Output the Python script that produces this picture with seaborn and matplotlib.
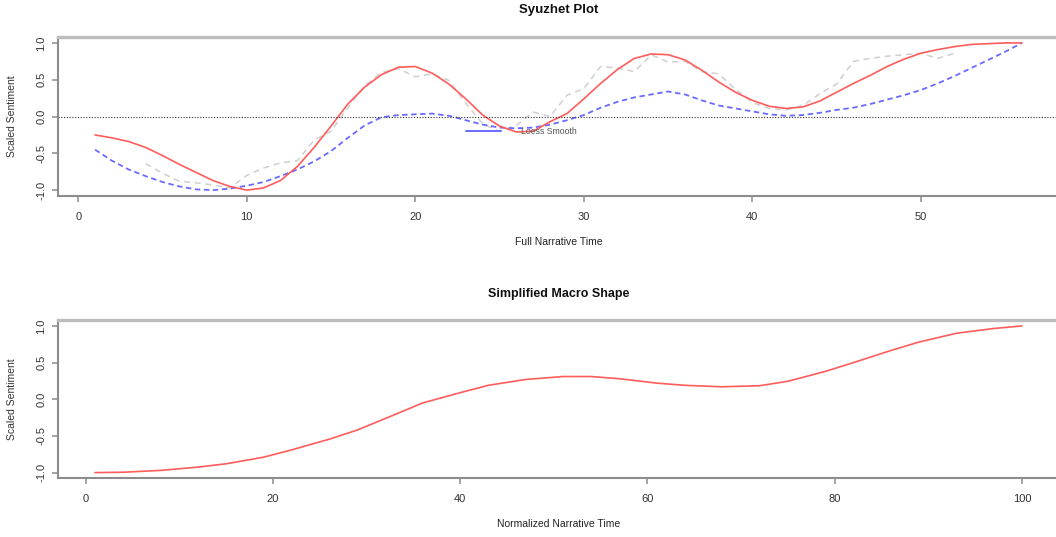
import numpy as np
import pandas as pd
import matplotlib
matplotlib.use("Agg")
import matplotlib.pyplot as plt
import seaborn as sns

# Data
narrative_time = list(range(1, 57))
dct_values = [-0.25, -0.29, -0.34, -0.42, -0.53, -0.65, -0.76, -0.87, -0.95, -1.0,
              -0.97, -0.87, -0.68, -0.42, -0.13, 0.17, 0.40, 0.57, 0.67, 0.68,
              0.59, 0.44, 0.24, 0.02, -0.13, -0.21, -0.20, -0.07, 0.04, 0.24,
              0.45, 0.64, 0.79, 0.85, 0.84, 0.77, 0.63, 0.47, 0.33, 0.22,
              0.14, 0.11, 0.13, 0.21, 0.33, 0.45, 0.56, 0.68, 0.78, 0.86,
              0.91, 0.95, 0.98, 0.99, 1.0, 1.0]
loess_values = [-0.45, -0.60, -0.72, -0.81, -0.89, -0.95, -0.99, -1.0, -0.98, -0.94,
                -0.89, -0.81, -0.72, -0.61, -0.47, -0.29, -0.12, -0.01, 0.02, 0.03,
                0.04, 0.01, -0.05, -0.11, -0.15, -0.16, -0.15, -0.11, -0.05, 0.02,
                0.12, 0.20, 0.26, 0.30, 0.34, 0.30, 0.22, 0.15, 0.11, 0.07,
                0.03, 0.01, 0.02, 0.05, 0.09, 0.12, 0.17, 0.23, 0.29, 0.36,
                0.45, 0.55, 0.66, 0.77, 0.88, 1.0]
rolling_time = list(range(4, 53))
rolling_values = [-0.64, -0.77, -0.88, -0.90, -0.93, -0.97, -0.80, -0.70, -0.63, -0.60,
                  -0.32, -0.20, 0.12, 0.42, 0.60, 0.65, 0.54, 0.58, 0.49, 0.18,
                  -0.10, -0.20, -0.12, 0.06, 0.00, 0.29, 0.38, 0.68, 0.66, 0.61,
                  0.84, 0.74, 0.75, 0.61, 0.58, 0.37, 0.19, 0.11, 0.09, 0.15,
                  0.31, 0.44, 0.75, 0.79, 0.82, 0.84, 0.86, 0.79, 0.86]

macro_time = [1, 4, 8, 12, 15, 19, 22, 26, 29, 33, 36, 40, 43, 47, 51, 54, 57, 61,
              64, 68, 72, 75, 79, 82, 86, 89, 93, 97, 100]
macro_values = [-1.0, -0.995, -0.97, -0.925, -0.88, -0.79, -0.69, -0.545, -0.42,
                -0.21, -0.05, 0.09, 0.19, 0.27, 0.31, 0.31, 0.28, 0.22, 0.19, 0.17,
                0.185, 0.245, 0.38, 0.50, 0.665, 0.78, 0.90, 0.965, 1.0]

y_ticks = [-1.0, -0.5, 0.0, 0.5, 1.0]
top_x_ticks = [0, 10, 20, 30, 40, 50]
bottom_x_ticks = [0, 20, 40, 60, 80, 100]

sns.set_style("ticks")
plt.rcParams['font.family'] = ['Liberation Sans', 'DejaVu Sans']

RED = "#ff5c5c"
BLUE = "#6a6aff"
GRAY = "#cfcfcf"
FRAME = "#8c8c8c"

fig = plt.figure(figsize=(10.56, 5.37), dpi=100)
ax1 = fig.add_axes([0.0549, 0.635, 0.948, 0.296])
ax2 = fig.add_axes([0.0549, 0.109, 0.948, 0.295])


def style_axes(ax, xticks, xlim, xlabel):
    ax.set_xlim(*xlim)
    ax.set_ylim(-1.08, 1.08)
    ax.set_xticks(xticks)
    ax.set_xticklabels([str(t) for t in xticks])
    ax.set_yticks(y_ticks)
    ax.set_yticklabels([f"{t:.1f}" for t in y_ticks], rotation=90, va="center")
    ax.tick_params(axis="both", direction="out", length=4.5, width=1.1, color=FRAME,
                   labelsize=8, labelcolor="#333333", bottom=True, left=True,
                   top=False, right=False)
    ax.tick_params(axis="x", pad=7)
    ax.tick_params(axis="y", pad=4)
    for side in ["left", "bottom"]:
        ax.spines[side].set_color(FRAME)
        ax.spines[side].set_linewidth(1.5)
    ax.spines["top"].set_visible(True)
    ax.spines["right"].set_visible(True)
    ax.spines["top"].set_color("#bdbdbd")
    ax.spines["top"].set_linewidth(2.4)
    ax.spines["right"].set_color(FRAME)
    ax.set_xlabel(xlabel, fontsize=7.5, color="#222222")
    ax.set_ylabel("Scaled Sentiment", fontsize=7.5, color="#333333")
    ax.xaxis.set_label_coords(0.5, -0.29)
    ax.xaxis.label.set_va("center")
    ax.yaxis.set_label_coords(-0.046, 0.5)
    ax.yaxis.label.set_va("center")
    ax.grid(False)


# Top panel: Syuzhet plot
sns.lineplot(x=rolling_time, y=rolling_values, ax=ax1, color=GRAY, linewidth=1.1,
             linestyle=(0, (4, 3)))
sns.lineplot(x=narrative_time, y=loess_values, ax=ax1, color=BLUE, linewidth=1.3,
             linestyle=(0, (3, 2)))
sns.lineplot(x=narrative_time, y=dct_values, ax=ax1, color=RED, linewidth=1.2)
ax1.axhline(0, color="#333333", linestyle=(0, (1, 1.5)), linewidth=0.8)

# legend fragment
ax1.plot([23.0, 25.1], [-0.2, -0.2], color=BLUE, linewidth=1.4)
ax1.text(26.25, -0.2, "Loess Smooth", fontsize=6.3, color="#555555", va="center", ha="left")

style_axes(ax1, top_x_ticks, (-1.2, 58.2), "Full Narrative Time")
fig.text(0.529, 0.981, "Syuzhet Plot", fontsize=9.5, fontweight="bold", ha="center",
         va="center", color="#111111")

# Bottom panel: simplified macro shape
sns.lineplot(x=macro_time, y=macro_values, ax=ax2, color=RED, linewidth=1.2)
style_axes(ax2, bottom_x_ticks, (-2.96, 103.96), "Normalized Narrative Time")
fig.text(0.529, 0.4525, "Simplified Macro Shape", fontsize=9, fontweight="bold",
         ha="center", va="center", color="#111111")

fig.savefig("out.png", dpi=100)
